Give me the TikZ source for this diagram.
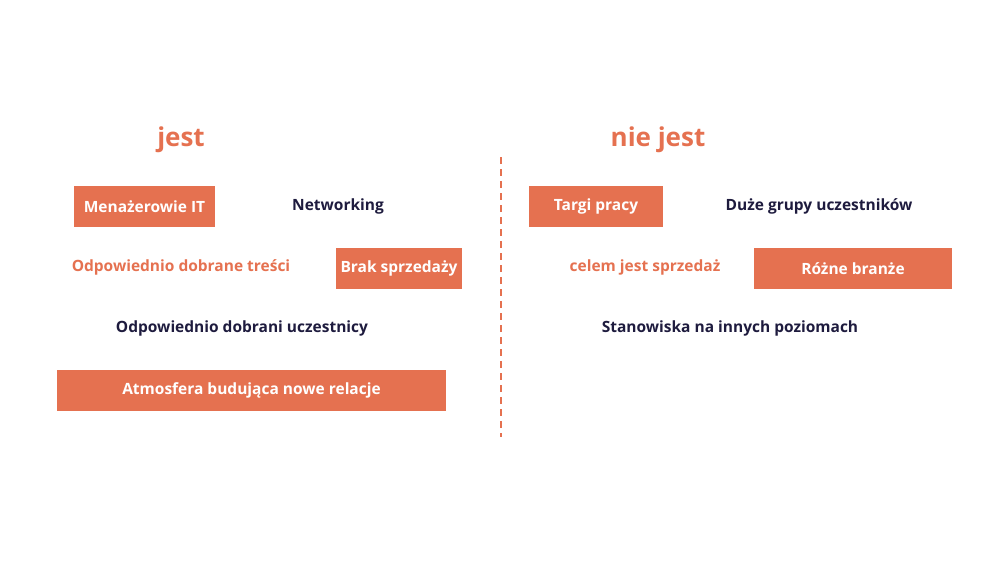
\documentclass[tikz,border=0pt]{standalone}
\usepackage{fontspec}
\setmainfont{Open Sans}
\definecolor{org}{HTML}{E57150}
\definecolor{navy}{HTML}{1E1B3E}
\begin{document}
\begin{tikzpicture}[x=1pt,y=-1pt,
  lab/.style={font=\fontsize{15.5}{18}\selectfont\bfseries},
  dk/.style={lab,text=navy},
  ot/.style={lab,text=org},
  bx/.style={lab,text=white,fill=org,inner sep=0pt},
  hd/.style={font=\fontsize{26}{30}\selectfont\bfseries,text=org}]
\useasboundingbox (0,0) rectangle (1000,562);
\node[hd] (h1) at (181,140) {jest};
\node[hd] (h2) at (658,140) {nie jest};
\coordinate (t) at (501,157); \coordinate (b) at (501,437);
\draw[org,line width=2pt,dash pattern=on 7pt off 5pt] (t) -- (b);
\node[bx,minimum width=141pt,minimum height=41pt] (a1) at (144.5,206.5) {Menażerowie IT};
\node[dk] (a2) at (338,206) {Networking};
\node[ot] (a3) at (181,267) {Odpowiednio dobrane treści};
\node[bx,minimum width=126pt,minimum height=41pt] (a4) at (399,268.5) {Brak sprzedaży};
\node[dk] (a5) at (242,328) {Odpowiednio dobrani uczestnicy};
\node[bx,minimum width=389pt,minimum height=41pt] (a6) at (251.5,390.5) {Atmosfera budująca nowe relacje};
\node[bx,minimum width=134pt,minimum height=41pt] (b1) at (596,206.5) {Targi pracy};
\node[dk] (b2) at (819,206) {Duże grupy uczestników};
\node[ot] (b3) at (645,267) {celem jest sprzedaż};
\node[bx,minimum width=198pt,minimum height=41pt] (b4) at (853,268.5) {Różne branże};
\node[dk] (b5) at (730,328) {Stanowiska na innych poziomach};
\end{tikzpicture}
\end{document}
